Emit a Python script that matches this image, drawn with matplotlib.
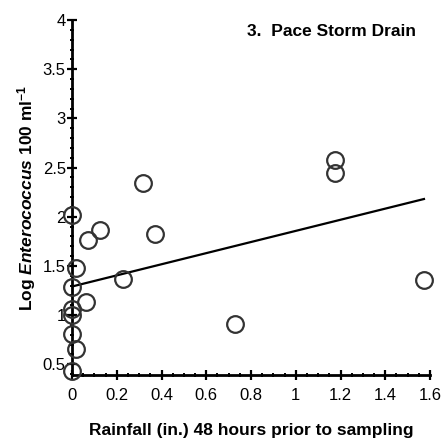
import numpy as np
import matplotlib.pyplot as plt
from matplotlib.ticker import MultipleLocator, FuncFormatter

plt.rcParams['font.family'] = 'Liberation Sans'
plt.rcParams['mathtext.fontset'] = 'custom'
plt.rcParams['mathtext.rm'] = 'Liberation Sans:bold'
plt.rcParams['mathtext.it'] = 'Liberation Sans:bold:italic'
plt.rcParams['mathtext.bf'] = 'Liberation Sans:bold'

# rainfall (in.) vs log enterococcus counts
rain = [0, 0.02, 0, 0.063, 0.073, 0.125, 0.226, 0.319, 0.371, 0.728,
        1.175, 1.175, 1.573, 0, 0, 0, 0.02, 0]
log_ent = [2.02, 1.48, 1.29, 1.13, 1.765, 1.86, 1.37, 2.34, 1.82, 0.91,
           2.58, 2.44, 1.36, 1.065, 1.0, 0.81, 0.65, 0.43]

# regression line end points
fit_x = [0, 1.573]
fit_y = [1.29, 2.18]

fig = plt.figure(figsize=(4.45, 4.46), dpi=100)
ax = fig.add_axes([0.1618, 0.1592, 0.8045, 0.7958])

ax.plot(fit_x, fit_y, color='black', lw=1.6, zorder=2)
ax.plot(rain, log_ent, 'o', ms=12, mfc='none', mec='#333333', mew=1.6,
        clip_on=False, zorder=3)

ax.set_xlim(0, 1.6)
ax.set_ylim(0.39, 4.0)

ax.spines['top'].set_visible(False)
ax.spines['right'].set_visible(False)
for s in ('left', 'bottom'):
    ax.spines[s].set_linewidth(2)

ax.xaxis.set_major_locator(MultipleLocator(0.2))
ax.xaxis.set_minor_locator(MultipleLocator(0.05))
ax.yaxis.set_major_locator(MultipleLocator(0.5))
ax.yaxis.set_minor_locator(MultipleLocator(0.1))
fmt = FuncFormatter(lambda v, p: ('%g' % round(v, 2)))
ax.xaxis.set_major_formatter(fmt)
ax.yaxis.set_major_formatter(fmt)

ax.tick_params(which='major', direction='inout', length=7, width=1.6,
               labelsize=12)
ax.tick_params(axis='x', which='major', pad=6)
ax.tick_params(axis='y', which='major', pad=1)
ax.tick_params(which='minor', direction='inout', length=3.5, width=1.4)

ax.set_xlabel('Rainfall (in.) 48 hours prior to sampling', fontsize=12.5,
              fontweight='bold', labelpad=14)
ax.set_ylabel(r'Log $\mathit{Enterococcus}$ 100 ml$^{-1}$', fontsize=12.5,
              fontweight='bold', labelpad=3)

ax.text(0.96, 0.99, '3.  Pace Storm Drain', transform=ax.transAxes,
        ha='right', va='top', fontsize=12.5, fontweight='bold')

fig.savefig('out.png', dpi=100)
